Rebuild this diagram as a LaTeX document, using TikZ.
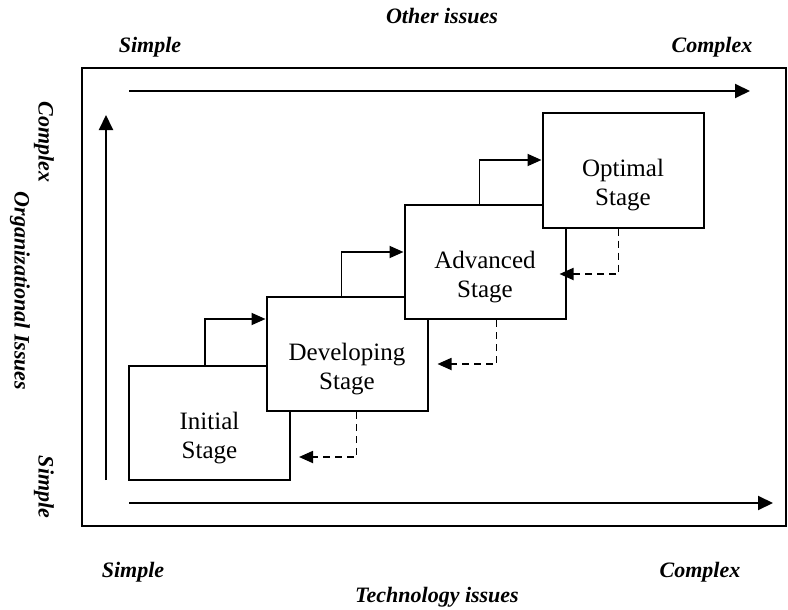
\documentclass[tikz,border=0pt]{standalone}
\usepackage{fontspec}
\setmainfont{Liberation Serif}
\usetikzlibrary{arrows.meta}

\tikzset{
  stagebox/.style={draw, fill=white, line width=2pt, minimum width=161pt,
    minimum height=114pt, inner sep=0pt},
  stagetext/.style={font=\fontsize{25}{29}\selectfont, align=center, inner sep=0pt},
  axislabel/.style={font=\fontsize{22}{26}\selectfont\bfseries\itshape, inner sep=0pt},
  axisarrow/.style={line width=2pt, -{Triangle[length=15pt,width=14pt]}},
  flow/.style={line width=1.8pt, -{Triangle[length=14pt,width=12pt]}},
  back/.style={flow, dash pattern=on 7pt off 5pt},
}

\begin{document}
\begin{tikzpicture}[x=1pt, y=-1pt]
  \useasboundingbox (0,0) rectangle (788,610);

  % outer frame
  \draw[line width=2pt] (82,68) rectangle (786,526);

  % axes
  \coordinate (topL) at (129,91);
  \coordinate (topR) at (750,91);
  \coordinate (vertB) at (106,480);
  \coordinate (vertT) at (106,115);
  \coordinate (botL) at (129,503);
  \coordinate (botR) at (773,503);
  \draw[axisarrow] (topL) -- (topR);
  \draw[axisarrow] (vertB) -- (vertT);
  \draw[axisarrow] (botL) -- (botR);

  % stage boxes, each drawn over the previous one
  \node[stagebox] (init) at (209.5,423) {};
  \node[stagetext] (initT) at ([yshift=-15pt]init.center) {Initial\\Stage};
  \node[stagebox] (dev) at (347,354) {};
  \node[stagetext] (devT) at ([yshift=-15pt]dev.center) {Developing\\Stage};
  \node[stagebox] (adv) at (485,262) {};
  \node[stagetext] (advT) at ([yshift=-15pt]adv.center) {Advanced\\Stage};
  \node[stagebox] (opt) at (623,170.5) {};
  \node[stagetext] (optT) at ([yshift=-15pt]opt.center) {Optimal\\Stage};

  % forward steps
  \draw[flow] ([xshift=77pt]init.north west) |- ([yshift=35pt]dev.west);
  \draw[flow] ([xshift=76pt]dev.north west) |- ([yshift=10pt]adv.west);
  \draw[flow] ([xshift=76pt]adv.north west) |- ([yshift=10.5pt]opt.west);

  % feedback steps
  \draw[back] ([xshift=91pt]dev.south west) |- ([xshift=8pt,yshift=-34pt]init.east);
  \draw[back] ([xshift=93pt]adv.south west) |- ([xshift=9pt,yshift=-10pt]dev.east);
  \draw[back] ([xshift=77pt]opt.south west) |- ([xshift=-7pt,yshift=-12pt]adv.east);

  % axis labels
  \node[axislabel] (other) at (442,16) {Other issues};
  \node[axislabel] (topS) at (150,47) {Simple};
  \node[axislabel] (topC) at (712,47) {Complex};
  \node[axislabel] (botS) at (133,572) {Simple};
  \node[axislabel] (botC) at (700,572) {Complex};
  \node[axislabel] (tech) at (437,597) {Technology issues};
  \node[axislabel, rotate=-90] (leftC) at (44,142) {Complex};
  \node[axislabel, rotate=-90] (org) at (20,291) {Organizational Issues};
  \node[axislabel, rotate=-90] (leftS) at (44,487) {Simple};
\end{tikzpicture}
\end{document}
